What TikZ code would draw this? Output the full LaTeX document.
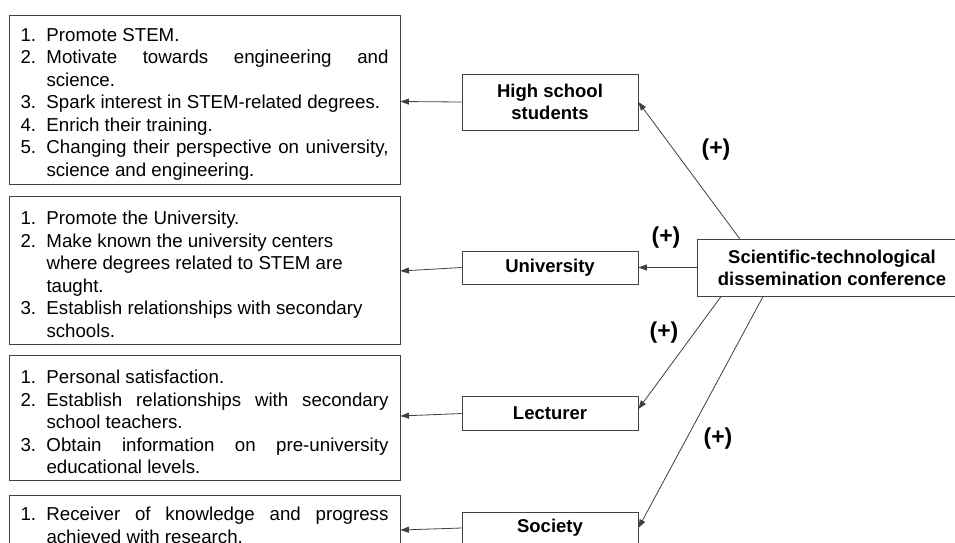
\documentclass[tikz,border=0pt]{standalone}
\usepackage{fontspec}
\setmainfont{Liberation Sans}
\usetikzlibrary{arrows.meta}
\newcommand\litem[2]{\par\noindent\hangindent=26pt\hangafter=1\makebox[26pt][l]{#1}#2}
\begin{document}
\begin{tikzpicture}[x=1pt,y=-1pt,
  edge/.style={draw=black!75, line width=0.8pt},
  lbox/.style={edge, rectangle, inner sep=0pt, text width=368pt, minimum width=391pt, align=justify, font=\fontsize{18.7}{22.5}\selectfont},
  mbox/.style={edge, rectangle, inner sep=0pt, minimum width=176pt, align=center, font=\bfseries\fontsize{18.5}{22}\selectfont},
  arr/.style={edge, -{Triangle[length=8.5pt,width=6pt]}},
  plus/.style={font=\bfseries\fontsize{23}{25}\selectfont, inner sep=0pt}]
\useasboundingbox (0,0) rectangle (955,542);
\fill[white] (0,0) rectangle (955,542);
\clip (0,0) rectangle (955,542);

% left boxes
\node[lbox, minimum height=169pt] (b1) at (204.5,99.5) {%
\litem{1.}{Promote STEM.}
\litem{2.}{Motivate towards engineering and\linebreak science.}
\litem{3.}{Spark interest in STEM-related degrees.}
\litem{4.}{Enrich their training.}
\litem{5.}{Changing their perspective on university,\linebreak science and engineering.}\par};

\node[lbox, minimum height=148pt] (b2) at (204.5,270) {%
\litem{1.}{Promote the University.}
\litem{2.}{Make known the university centers\newline where degrees related to STEM are\newline taught.}
\litem{3.}{Establish relationships with secondary\newline schools.}\par};

\node[lbox, minimum height=125pt] (b3) at (204.5,417.5) {%
\litem{1.}{Personal satisfaction.}
\litem{2.}{Establish relationships with secondary\linebreak school teachers.}
\litem{3.}{Obtain information on pre-university\linebreak educational levels.}\par};

\node[lbox, minimum height=52pt] (b4) at (204.5,521) {%
\litem{1.}{Receiver of knowledge and progress\linebreak achieved with research.}\par};

% middle boxes
\node[mbox, minimum height=56pt] (hs) at (550,102) {High school\\students};
\node[mbox, minimum height=33pt] (uni) at (550,267.5) {University};
\node[mbox, minimum height=34pt] (lec) at (550,413.5) {Lecturer};
\node[mbox, minimum height=32pt] (soc) at (550,528) {Society};

% conference
\node[mbox, minimum width=270pt, minimum height=57pt] (conf) at (832,267.5) {Scientific-technological\\dissemination conference};

% labels
\node[plus] (p1) at (716,150) {(+)};
\node[plus] (p2) at (666,238) {(+)};
\node[plus] (p3) at (664,333) {(+)};
\node[plus] (p4) at (718,439) {(+)};

% connectors
\draw[arr] ([xshift=43pt]conf.north west) -- (hs.east);
\draw[arr] (conf.west) -- (uni.east);
\draw[arr] ([xshift=24.5pt]conf.south west) -- ([yshift=4.5pt]lec.east);
\draw[arr] ([xshift=66.5pt]conf.south west) -- (soc.east);
\draw[arr] (hs.west) -- ([yshift=-2pt]b1.east);
\draw[arr] (uni.west) -- ([yshift=-1pt]b2.east);
\draw[arr] (lec.west) -- ([yshift=1.5pt]b3.east);
\draw[arr] (soc.west) -- ([yshift=-9pt]b4.east);
\end{tikzpicture}
\end{document}
